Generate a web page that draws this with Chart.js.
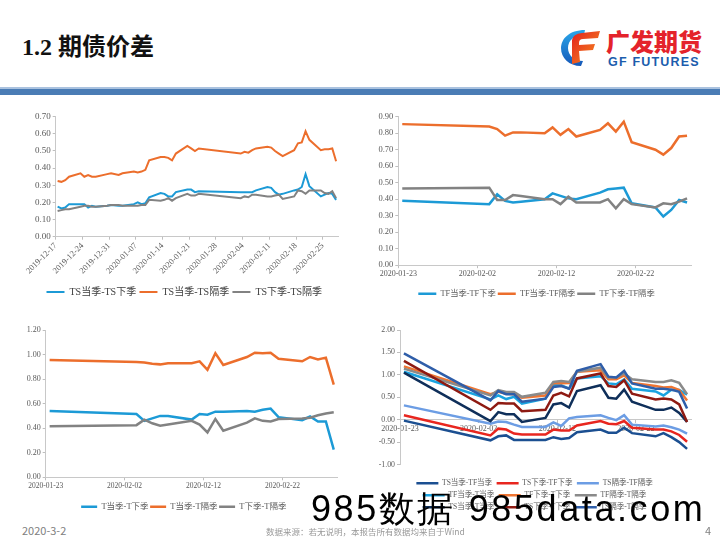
<!DOCTYPE html>
<html><head><meta charset="utf-8">
<script src="https://cdn.jsdelivr.net/npm/chart.js@4.4.1/dist/chart.umd.min.js"></script>
<style>
html,body{margin:0;padding:0;background:#fff;}
#page{position:relative;width:720px;height:540px;overflow:hidden;background:#fff;}
canvas{position:absolute;}
#title{position:absolute;left:22px;top:27px;font-family:'Liberation Serif','Noto Sans CJK SC',serif;font-weight:bold;font-size:24px;color:#111;white-space:nowrap;}
#brandCn{position:absolute;left:606px;top:27px;font-family:'Noto Sans CJK SC',sans-serif;font-weight:900;font-size:24px;line-height:28px;color:#e4232b;white-space:nowrap;}
#brandEn{position:absolute;left:608px;top:55px;font-family:'Liberation Sans',Arial,sans-serif;font-weight:bold;font-size:12.5px;line-height:14px;letter-spacing:1.2px;color:#1c5dad;white-space:nowrap;}
#emblem{position:absolute;left:558px;top:28px;}
#bar1{position:absolute;left:0;top:87px;width:720px;height:2px;background:#aac2df;}
#bar2{position:absolute;left:0;top:89px;width:720px;height:6px;background:#4a7cb5;}
#date{position:absolute;left:22px;top:523px;font-family:'Noto Sans CJK SC',sans-serif;font-size:11px;line-height:14px;color:#808080;}
#src{position:absolute;left:266px;top:525px;font-family:'Noto Sans CJK SC',sans-serif;font-size:8.5px;line-height:12px;color:#999;white-space:nowrap;}
#pg{position:absolute;left:705px;top:523px;font-family:'Noto Sans CJK SC',sans-serif;font-size:11px;line-height:14px;color:#808080;}
#wm{position:absolute;left:311px;top:491px;font-family:'Liberation Sans',Arial,sans-serif;font-size:36px;line-height:36px;letter-spacing:2.6px;color:#000;white-space:nowrap;}
</style></head><body>
<div id="page">
<div id="title">1.2 期债价差</div>
<svg id="emblem" width="48" height="40" viewBox="0 0 48 40">
 <defs>
  <linearGradient id="gb" x1="0" y1="0" x2="0" y2="1"><stop offset="0" stop-color="#2aa7ea"/><stop offset="1" stop-color="#1658b8"/></linearGradient>
  <linearGradient id="gr" x1="0" y1="0" x2="1" y2="1"><stop offset="0" stop-color="#e3201f"/><stop offset="1" stop-color="#f7901e"/></linearGradient>
 </defs>
 <path d="M27 2 C11 2 3 11 3 20 C3 30 11 38 23 38 L25 33 C16 33 10 27 10 20 C10 12 17 7 26 7 Z" fill="url(#gb)"/>
 <path d="M14 12 Q15 6 24 5 L42 3 L40 10 L25 11 Q21 11 21 15 L21 17 L37 16 L35 22 L21 23 L22 34 L14 36 Z" fill="url(#gr)"/>
</svg>
<div id="brandCn">广发期货</div>
<div id="brandEn">GF FUTURES</div>
<div id="bar1"></div><div id="bar2"></div>
<canvas id="c1" width="340" height="202" style="left:10px;top:105px;width:340px;height:202px"></canvas>
<canvas id="c2" width="360" height="203" style="left:360px;top:105px;width:360px;height:203px"></canvas>
<canvas id="c3" width="340" height="201" style="left:10px;top:320px;width:340px;height:201px"></canvas>
<canvas id="c4" width="360" height="201" style="left:360px;top:320px;width:360px;height:201px"></canvas>
<div id="date">2020-3-2</div>
<div id="src">数据来源：若无说明，本报告所有数据均来自于Wind</div>
<div id="pg">4</div>
<div id="wm">985数据 985data.com</div>
</div>
<script>
// ---------- Chart 1: TS spreads ----------
const tsDates = ['2019-12-17','2019-12-18','2019-12-19','2019-12-20','2019-12-23','2019-12-24','2019-12-25','2019-12-26','2019-12-27','2019-12-30','2019-12-31',
 '2020-01-02','2020-01-03','2020-01-06','2020-01-07','2020-01-08','2020-01-09','2020-01-10','2020-01-13','2020-01-14','2020-01-15','2020-01-16','2020-01-17','2020-01-20','2020-01-21','2020-01-22','2020-01-23',
 '2020-02-03','2020-02-04','2020-02-05','2020-02-06','2020-02-07','2020-02-10','2020-02-11','2020-02-12','2020-02-13','2020-02-14','2020-02-17','2020-02-18','2020-02-19','2020-02-20','2020-02-21','2020-02-24','2020-02-25','2020-02-26','2020-02-27','2020-02-28'];
const tsCurNext = [0.175,0.165,0.17,0.19,0.19,0.19,0.17,0.18,0.175,0.18,0.185,
 0.18,0.18,0.19,0.20,0.19,0.195,0.23,0.255,0.25,0.235,0.235,0.26,0.275,0.275,0.26,0.265,
 0.26,0.26,0.26,0.26,0.27,0.29,0.285,0.26,0.245,0.25,0.27,0.275,0.29,0.365,0.295,0.235,0.245,0.255,0.25,0.215];
const tsCurFar = [0.325,0.32,0.33,0.35,0.37,0.35,0.36,0.35,0.35,0.365,0.37,
 0.36,0.37,0.38,0.375,0.38,0.39,0.445,0.465,0.465,0.46,0.445,0.485,0.53,0.515,0.50,0.515,
 0.485,0.495,0.49,0.505,0.515,0.525,0.52,0.50,0.485,0.47,0.505,0.545,0.55,0.615,0.565,0.505,0.51,0.51,0.515,0.44];
const tsNextFar = [0.15,0.155,0.16,0.16,0.175,0.18,0.18,0.175,0.175,0.18,0.185,
 0.185,0.18,0.18,0.18,0.185,0.185,0.215,0.21,0.215,0.225,0.21,0.225,0.25,0.24,0.24,0.25,
 0.225,0.235,0.23,0.245,0.245,0.235,0.235,0.24,0.245,0.22,0.235,0.27,0.265,0.25,0.27,0.27,0.255,0.25,0.265,0.225];
const tsTickLabels = ['2019-12-17','2019-12-24','2019-12-31','2020-01-07','2020-01-14','2020-01-21','2020-01-28','2020-02-04','2020-02-11','2020-02-18','2020-02-25'];
const tsNames = ['TS当季-TS下季','TS当季-TS隔季','TS下季-TS隔季'];

// ---------- Charts 2-4 share dates ----------
const bondDates = ['2020-01-23','2020-02-03','2020-02-04','2020-02-05','2020-02-06','2020-02-07','2020-02-10','2020-02-11','2020-02-12','2020-02-13','2020-02-14',
 '2020-02-17','2020-02-18','2020-02-19','2020-02-20','2020-02-21','2020-02-24','2020-02-25','2020-02-26','2020-02-27','2020-02-28'];
const bondTickLabels = ['2020-01-23','2020-02-02','2020-02-12','2020-02-22'];

// ---------- Chart 2: TF spreads ----------
const tfCurNext = [0.39,0.37,0.43,0.39,0.38,0.385,0.40,0.435,0.42,0.405,0.40,0.44,0.46,0.465,0.47,0.375,0.35,0.295,0.335,0.395,0.38];
const tfCurFar  = [0.855,0.84,0.825,0.785,0.805,0.805,0.80,0.835,0.79,0.825,0.78,0.82,0.86,0.81,0.87,0.745,0.70,0.67,0.71,0.78,0.785];
const tfNextFar = [0.465,0.47,0.395,0.395,0.425,0.42,0.40,0.40,0.37,0.415,0.38,0.38,0.40,0.345,0.40,0.37,0.35,0.375,0.37,0.385,0.405];
const tfNames = ['TF当季-TF下季','TF当季-TF隔季','TF下季-TF隔季'];

// ---------- Chart 3: T spreads ----------
const tCurNext = [0.54,0.515,0.46,0.48,0.50,0.50,0.47,0.515,0.51,0.535,0.535,0.54,0.535,0.55,0.56,0.49,0.465,0.495,0.455,0.455,0.225];
const tCurFar  = [0.955,0.94,0.935,0.925,0.92,0.93,0.93,0.945,0.875,1.01,0.915,0.98,1.015,1.01,1.015,0.965,0.945,0.98,0.96,0.975,0.755];
const tNextFar = [0.415,0.425,0.47,0.44,0.42,0.43,0.46,0.43,0.365,0.475,0.38,0.445,0.48,0.46,0.455,0.475,0.48,0.485,0.505,0.52,0.53];
const tNames = ['T当季-T下季','T当季-T隔季','T下季-T隔季'];

// ---------- Chart 4: inter-product spreads ----------
const tsTfCur  = [-0.02,-0.46,-0.37,-0.35,-0.45,-0.45,-0.45,-0.39,-0.43,-0.41,-0.28,-0.22,-0.29,-0.29,-0.18,-0.30,-0.37,-0.30,-0.39,-0.50,-0.65];
const tsTfNext = [0.10,-0.35,-0.20,-0.22,-0.31,-0.33,-0.33,-0.22,-0.24,-0.24,-0.13,-0.03,-0.09,-0.10,-0.03,-0.18,-0.22,-0.22,-0.26,-0.34,-0.49];
const tsTfFar  = [0.32,-0.09,-0.04,-0.05,-0.11,-0.16,-0.16,-0.06,-0.14,0.03,0.06,0.10,0.04,-0.01,0.10,-0.11,-0.15,-0.13,-0.17,-0.22,-0.31];
const tfTCur   = [1.07,0.45,0.54,0.46,0.51,0.36,0.47,0.77,0.77,0.69,0.92,0.97,0.81,0.79,0.90,0.69,0.63,0.54,0.67,0.66,0.56];
const tfTNext  = [1.19,0.57,0.62,0.58,0.57,0.49,0.54,0.82,0.81,0.82,1.07,1.10,0.90,0.90,0.99,0.82,0.75,0.72,0.73,0.66,0.43];
const tfTFar   = [1.14,0.54,0.66,0.62,0.62,0.51,0.60,0.84,0.86,0.84,1.07,1.16,0.94,0.94,1.03,0.90,0.84,0.84,0.88,0.82,0.57];
const tsTCur   = [1.05,-0.03,0.17,0.12,0.12,-0.05,0.04,0.34,0.37,0.27,0.64,0.77,0.49,0.47,0.67,0.40,0.22,0.22,0.27,0.15,-0.05];
const tsTNext  = [1.31,0.22,0.37,0.36,0.36,0.19,0.22,0.54,0.60,0.52,0.92,1.03,0.75,0.73,0.88,0.58,0.45,0.47,0.45,0.34,-0.05];
const tsTFar   = [1.48,0.43,0.64,0.57,0.57,0.40,0.47,0.73,0.75,0.69,1.09,1.24,0.96,0.94,1.09,0.81,0.69,0.69,0.67,0.62,0.25];
const crossNames = ['TS当季-TF当季','TS下季-TF下季','TS隔季-TF隔季','TF当季-T当季','TF下季-T下季','TF隔季-T隔季','TS当季-T当季','TS下季-T下季','TS隔季-T隔季'];

// ---------- helpers ----------
const SERIF = "'Liberation Serif','Noto Sans CJK SC',serif";
function dayIndex(s, base){
  const a = s.split('-').map(Number), b = base.split('-').map(Number);
  return Math.round((Date.UTC(a[0],a[1]-1,a[2]) - Date.UTC(b[0],b[1]-1,b[2]))/86400000);
}
function pts(dates, vals){
  const base = dates[0];
  return vals.map((v,i)=>({x: dayIndex(dates[i], base)+0.5, y: v}));
}
function makeChart(id, o){
  const n = o.series.length;
  const datasets = o.series.map((s,i)=>({
    label: s.name, data: pts(o.dates, s.data), borderColor: s.color, backgroundColor: s.color,
    borderWidth: o.lineWidth, pointRadius: 0, pointHoverRadius: 0, tension: 0, fill: false,
    order: n - i
  }));
  const base = o.dates[0];
  const tickVals = o.tickLabels.map(l => dayIndex(l, base));
  const xScale = {
    type: 'linear', min: 0, max: o.xMax, offset: false,
    afterBuildTicks: s => { s.ticks = tickVals.map(v => ({value: v})); },
    ticks: {autoSkip: false, callback: (v,i) => o.tickLabels[i], color: '#595959',
      font: {family: SERIF, size: o.xFont}, padding: o.xPad,
      maxRotation: o.rot, minRotation: o.rot},
    grid: {drawOnChartArea: false, drawTicks: true, tickLength: 3, color: '#bfbfbf'},
    border: {display: true, color: '#c8c8c8', width: 1}
  };
  if (o.xAtZero) { xScale.position = {y: 0}; }
  else { xScale.afterFit = s => { s.height = o.xHeight; }; }
  const shiftPlugin = {
    id: 'legendShift',
    afterLayout(chart){ if (chart.legend) { chart.legend.left += o.legShift; chart.legend.right += o.legShift; } }
  };
  const chart = new Chart(document.getElementById(id), {
    type: 'line',
    data: {datasets},
    plugins: [shiftPlugin],
    options: {
      responsive: false, animation: false, devicePixelRatio: 1,
      layout: {padding: o.pad},
      scales: {
        x: xScale,
        y: {
          min: o.yMin, max: o.yMax,
          afterFit: s => { s.width = o.yWidth; },
          ticks: {stepSize: o.yStep, callback: v => Number(v).toFixed(2), color: '#595959',
            font: {family: SERIF, size: o.yFont}, padding: 2},
          grid: {drawOnChartArea: false, drawTicks: true, tickLength: 3, color: '#bfbfbf'},
          border: {display: true, color: '#c8c8c8', width: 1}
        }
      },
      plugins: {
        tooltip: {enabled: false},
        legend: {
          position: 'bottom',
          title: o.legendTitle ? {display: true, text: '', font: {size: 1}, padding: {top: o.legendTitle, bottom: 0}} : {display: false},
          labels: {
            usePointStyle: true, pointStyle: 'line', pointStyleWidth: o.legBox,
            padding: o.legPad, color: o.legColor,
            font: {family: SERIF, size: o.legFont},
            sort: (a,b) => a.datasetIndex - b.datasetIndex
          }
        }
      }
    }
  });
  // control how many legend entries share one row
  if (chart.legend && typeof chart.legend._fitRows === 'function') {
    const lg = chart.legend, orig = lg._fitRows;
    lg._fitRows = function(){ const mw = this.maxWidth; this.maxWidth = o.legRowWidth; const r = orig.apply(this, arguments); this.maxWidth = mw; return r; };
    chart.update('none');
  }
  return chart;
}

const BLUE = '#1c9ad6', ORANGE = '#ec6e2c', GRAY = '#828282';

makeChart('c1', {
  dates: tsDates, tickLabels: tsTickLabels, xMax: 74,
  series: [{name: tsNames[0], data: tsCurNext, color: BLUE},
           {name: tsNames[1], data: tsCurFar, color: ORANGE},
           {name: tsNames[2], data: tsNextFar, color: GRAY}],
  lineWidth: 2, yMin: 0, yMax: 0.7, yStep: 0.1,
  pad: {left: 0, top: 11.7, right: 12, bottom: 0}, yWidth: 45.7, xHeight: 47,
  xFont: 8.5, yFont: 9, xPad: 1, rot: 45,
  legFont: 10, legPad: 3.3, legBox: 18, legColor: '#404040', legShift: 10.3, legRowWidth: 2000
});

makeChart('c2', {
  dates: bondDates, tickLabels: bondTickLabels, xMax: 37,
  series: [{name: tfNames[0], data: tfCurNext, color: BLUE},
           {name: tfNames[1], data: tfCurFar, color: ORANGE},
           {name: tfNames[2], data: tfNextFar, color: GRAY}],
  lineWidth: 2.5, yMin: 0, yMax: 0.9, yStep: 0.1,
  pad: {left: 0, top: 11.7, right: 29, bottom: 0}, yWidth: 38.3, xHeight: 22.5,
  xFont: 8, yFont: 8.5, xPad: 1, rot: 0,
  legFont: 8.3, legPad: 2, legBox: 18, legColor: '#595959', legShift: 11, legRowWidth: 2000
});

makeChart('c3', {
  dates: bondDates, tickLabels: bondTickLabels, xMax: 37,
  series: [{name: tNames[0], data: tCurNext, color: BLUE},
           {name: tNames[1], data: tCurFar, color: ORANGE},
           {name: tNames[2], data: tNextFar, color: GRAY}],
  lineWidth: 2.5, yMin: 0, yMax: 1.2, yStep: 0.2,
  pad: {left: 0, top: 10, right: 12.3, bottom: 0}, yWidth: 35.7, xHeight: 23.7,
  xFont: 7.5, yFont: 8, xPad: 1, rot: 0,
  legFont: 8.5, legPad: 1.5, legBox: 16, legColor: '#595959', legShift: 10, legRowWidth: 2000
});

const crossColors = ['#1b4f91','#e8261f','#6c9de4','#1aa3e0','#ef7532','#8a8a8a','#0f2f5a','#8e1a12','#2f5ea9'];
const crossData = [tsTfCur, tsTfNext, tsTfFar, tfTCur, tfTNext, tfTFar, tsTCur, tsTNext, tsTFar];
makeChart('c4', {
  dates: bondDates, tickLabels: bondTickLabels, xMax: 37,
  series: crossNames.map((nm,i)=>({name: nm, data: crossData[i], color: crossColors[i]})),
  lineWidth: 2.5, yMin: -1, yMax: 2, yStep: 0.5, xAtZero: true,
  pad: {left: 0, top: 10, right: 29, bottom: 0}, yWidth: 40,
  xFont: 8, yFont: 7.8, xPad: 1, rot: 0,
  legFont: 7.5, legPad: 4.5, legBox: 22, legColor: '#595959', legendTitle: 9.25, legShift: 9, legRowWidth: 265
});
</script>
</body></html>
